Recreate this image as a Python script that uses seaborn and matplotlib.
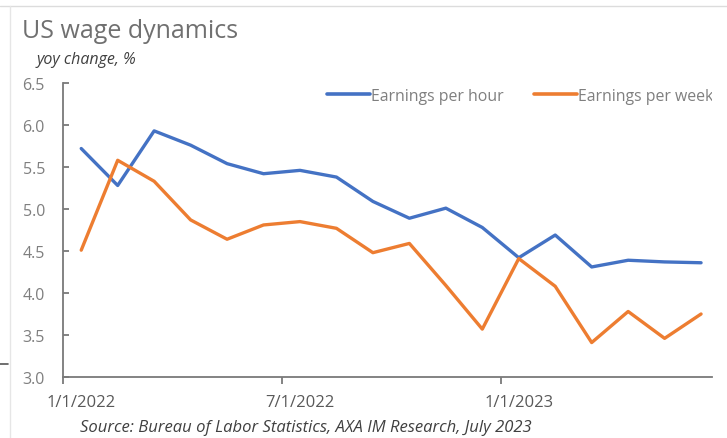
import pandas as pd
import numpy as np
import matplotlib.pyplot as plt
import seaborn as sns
from matplotlib.lines import Line2D

sns.set_theme(style='white')
plt.rcParams['font.family'] = ['Open Sans', 'DejaVu Sans']

# monthly data, Jan 2022 - Jun 2023
months = pd.date_range('2022-01-01', periods=18, freq='MS')
per_hour = [5.72, 5.28, 5.93, 5.76, 5.54, 5.42, 5.46, 5.38, 5.09, 4.89,
            5.01, 4.78, 4.42, 4.69, 4.31, 4.39, 4.37, 4.36]
per_week = [4.51, 5.58, 5.33, 4.87, 4.64, 4.81, 4.85, 4.77, 4.48, 4.59,
            4.09, 3.57, 4.41, 4.08, 3.41, 3.78, 3.46, 3.75]
series_names = ['Earnings per hour', 'Earnings per week']
colors = ['#4472C4', '#ED7D31']
yticks = [3.0, 3.5, 4.0, 4.5, 5.0, 5.5, 6.0, 6.5]

df = pd.DataFrame({'pos': np.arange(len(months)),
                   series_names[0]: per_hour,
                   series_names[1]: per_week})
long = df.melt(id_vars='pos', var_name='series', value_name='value')

fig = plt.figure(figsize=(7.27, 4.39), dpi=100)
ax = fig.add_axes([63 / 727, 61 / 439, (712 - 63) / 727, (378 - 84) / 439])

sns.lineplot(data=long, x='pos', y='value', hue='series', hue_order=series_names,
             palette=colors, linewidth=2.4, ax=ax, legend=True)

ax.set_xlim(-0.5, 17.3)
ax.set_ylim(3.0, 6.5)
ax.set_yticks(yticks)
ax.set_yticklabels(['%.1f' % v for v in yticks])
lab_idx = [0, 6, 12]
ax.set_xticks(lab_idx)
ax.set_xticklabels([f'{months[i].month}/{months[i].day}/{months[i].year}' for i in lab_idx])
ax.set_xticks([-0.5, 5.5, 11.5], minor=True)
ax.tick_params(axis='x', which='major', length=0, pad=12, labelsize=12, labelcolor='#595959')
ax.tick_params(axis='x', which='minor', length=5, width=1.2, color='#6e6e6e', direction='out', bottom=True)
ax.tick_params(axis='y', length=4, width=1.2, color='#6e6e6e', direction='in', left=True,
               pad=13, labelsize=11.5, labelcolor='#7f7f7f')
ax.set_xlabel('')
ax.set_ylabel('')

for s in ['top', 'right']:
    ax.spines[s].set_visible(False)
for s in ['left', 'bottom']:
    ax.spines[s].set_color('#7a7a7a')
    ax.spines[s].set_linewidth(1.3)

leg = ax.legend(loc='upper left', bbox_to_anchor=((327 - 63) / 649, 1 - 5 / 294), ncol=2, frameon=False,
                fontsize=11.4, handlelength=2.7, handletextpad=0.1, columnspacing=1.9,
                borderpad=0, borderaxespad=0)
for t in leg.get_texts():
    t.set_color('#7f7f7f')
    t.set_clip_box(ax.bbox)
    t.set_clip_on(True)
for h in leg.get_lines():
    h.set_linewidth(2.6)

fig.text(22 / 727, 1 - 31 / 439, 'US wage dynamics', fontsize=18, color='#707070', va='center')
fig.text(37 / 727, 1 - 60 / 439, 'yoy change, %', fontsize=11.5, style='italic', color='#404040', va='center')
fig.text(80 / 727, 1 - 428 / 439, 'Source: Bureau of Labor Statistics, AXA IM Research, July 2023',
         fontsize=12, style='italic', color='#404040', va='center')

# screenshot border lines
fig.add_artist(Line2D([0, 1], [1 - 7 / 439, 1 - 7 / 439], transform=fig.transFigure, color='#dcdcdc', lw=1))
fig.add_artist(Line2D([10 / 727, 10 / 727], [0, 1 - 7 / 439], transform=fig.transFigure, color='#e6e6e6', lw=1))
fig.add_artist(Line2D([0, 8 / 727], [1 - 365 / 439, 1 - 365 / 439], transform=fig.transFigure, color='#555555', lw=1.2))

fig.savefig('out.png', dpi=100)
